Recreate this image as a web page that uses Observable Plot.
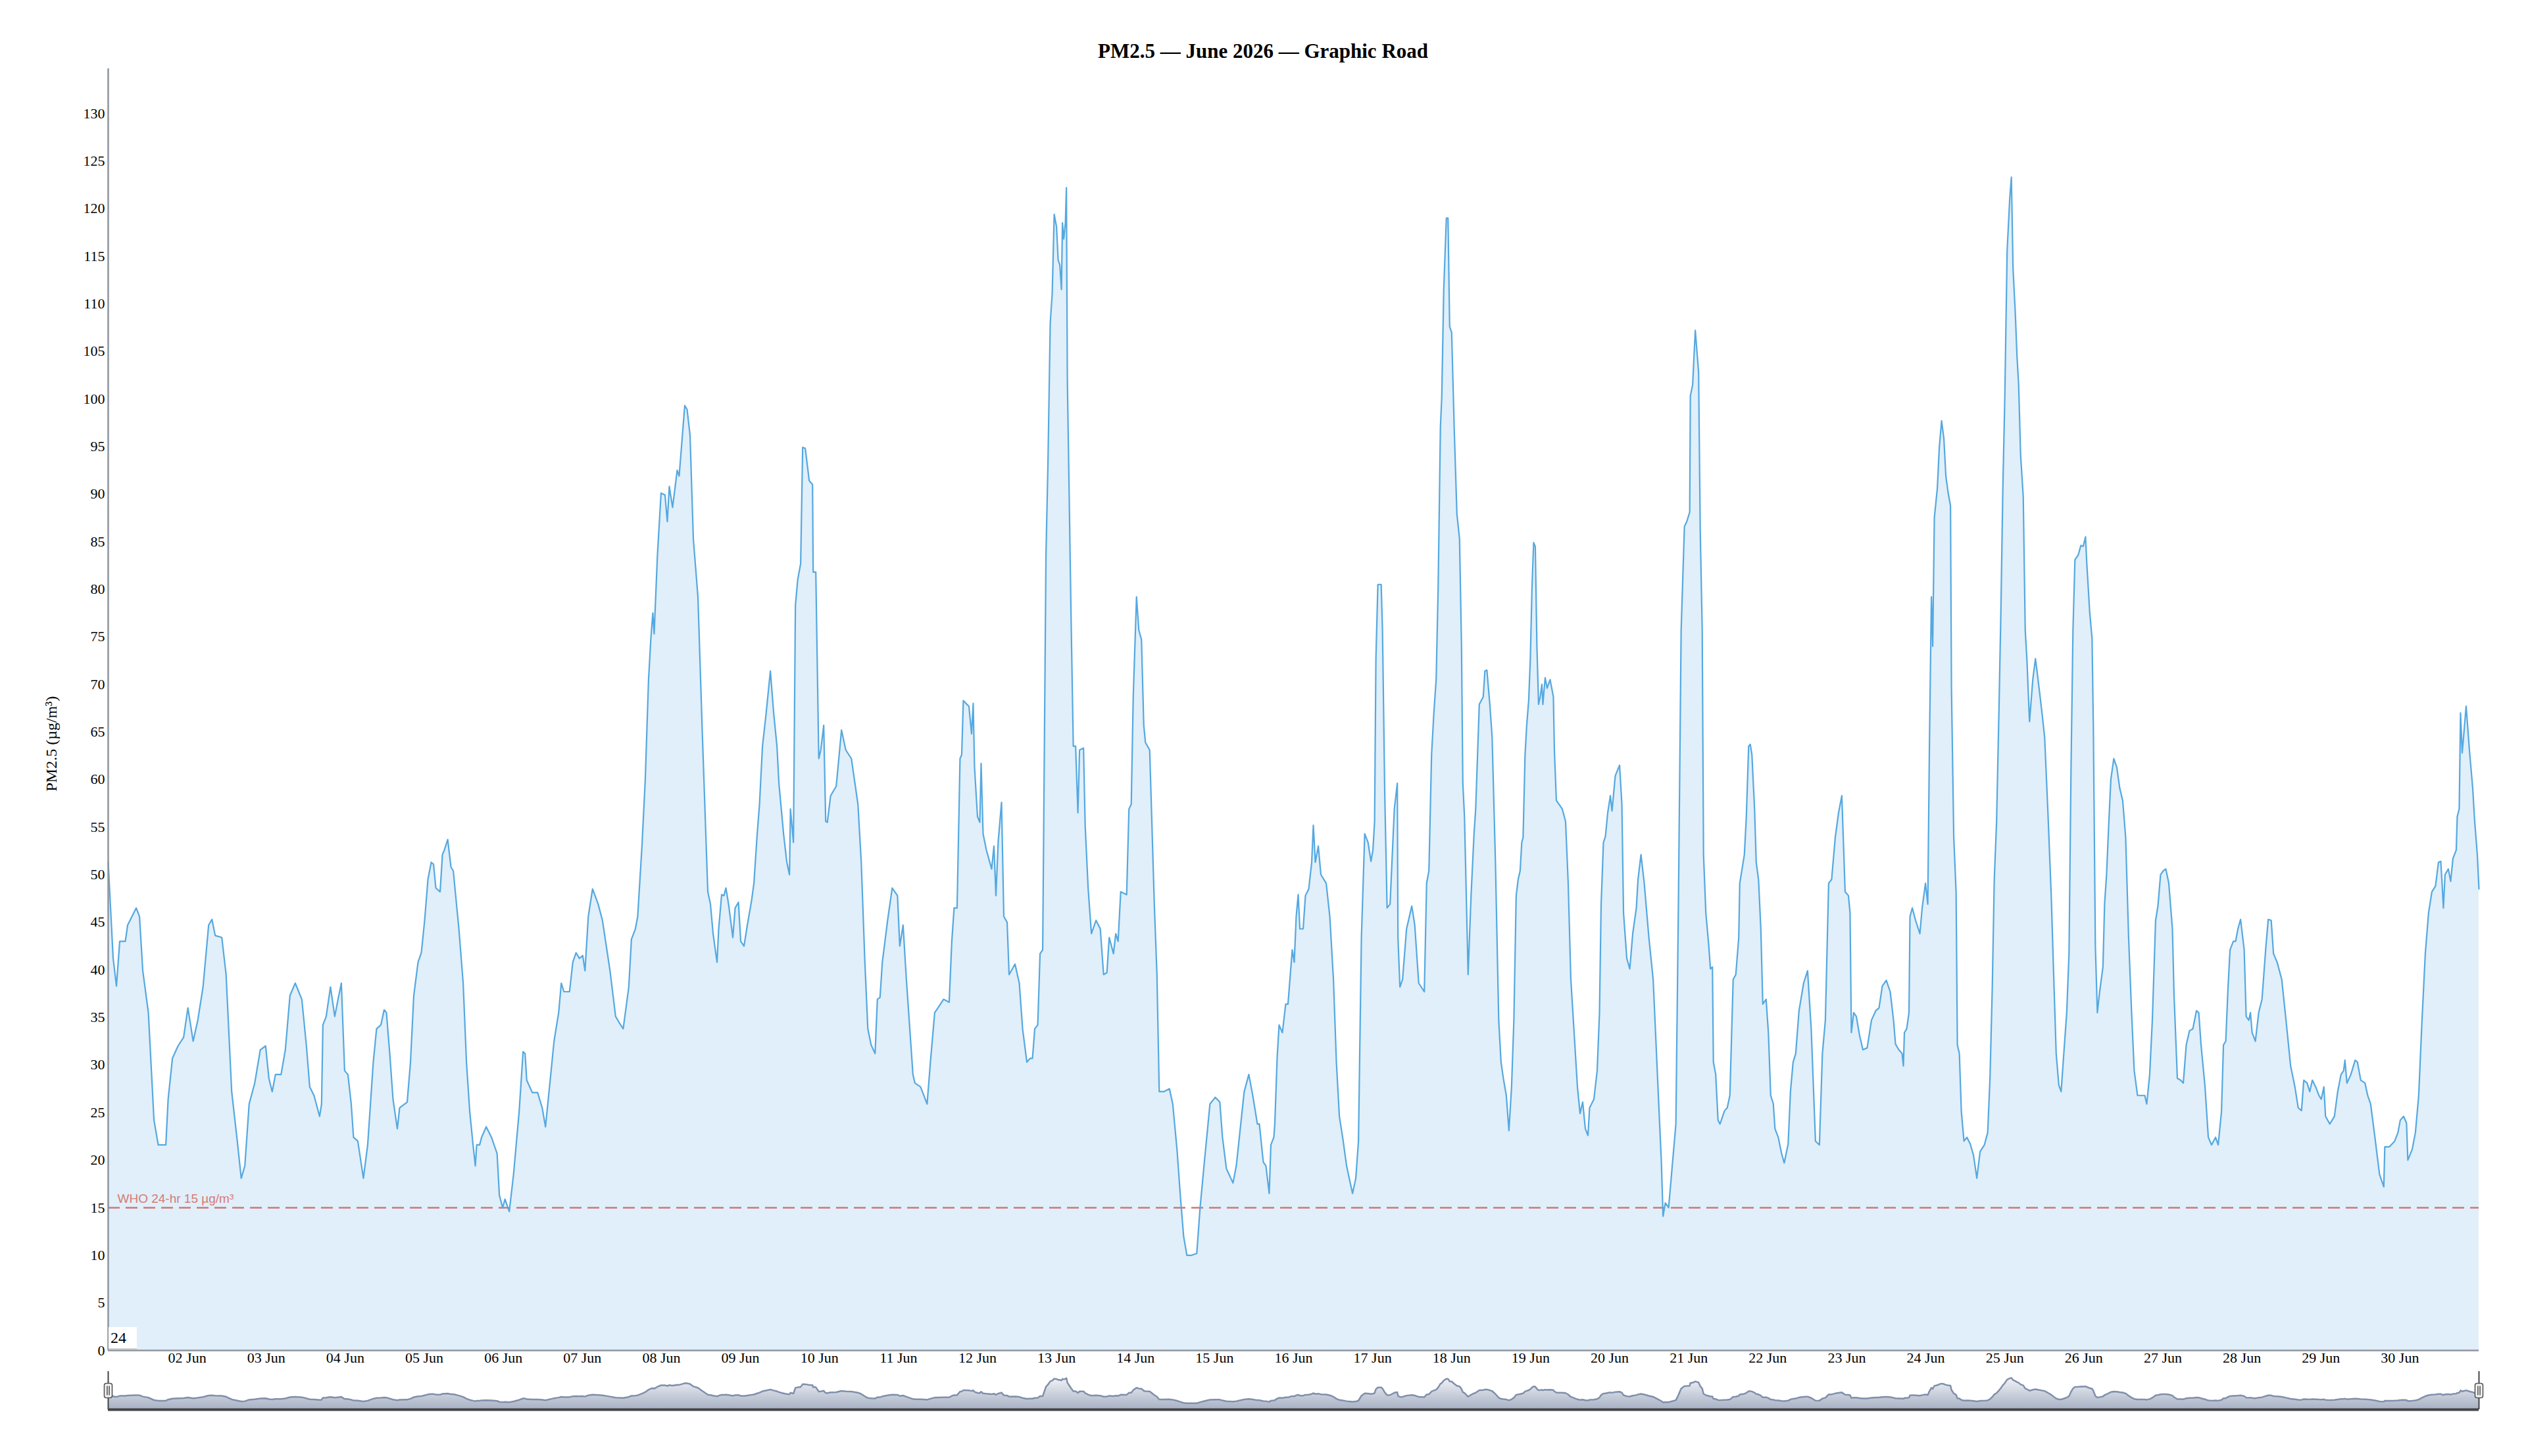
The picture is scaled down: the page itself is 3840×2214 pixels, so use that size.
<!DOCTYPE html>
<html>
<head>
<meta charset="utf-8">
<script src="https://cdn.jsdelivr.net/npm/d3@7"></script>
<script src="https://cdn.jsdelivr.net/npm/@observablehq/plot@0.6"></script>
<style>
html, body { margin: 0; padding: 0; background: #fff; }
#page { position: relative; width: 3840px; height: 2214px; background: #fff; font-family: "Liberation Serif", "Times New Roman", serif; overflow: hidden; }
#title { position: absolute; left: 0; top: 62px; width: 3840px; text-align: center; font-weight: bold; font-size: 31px; line-height: 32px; color: #000; }
#main { position: absolute; left: 0; top: 100px; }
#nav { position: absolute; left: 0; top: 2080px; }
#roller { position: absolute; left: 165px; top: 2018px; width: 40px; height: 32px; background: #fff; border-bottom: 2px solid #d4d4d4; font-size: 24px; line-height: 33px; padding-left: 3px; color: #000; }
</style>
</head>
<body>
<div id="page">
  <div id="title"></div>
  <div id="main"></div>
  <div id="nav"></div>
  <div id="roller"></div>
</div>
<script>
// ---- text ----
const titleText = "PM2.5 — June 2026 — Graphic Road";
const yLabel = "PM2.5 (µg/m³)";
const whoLimit = 15;
const whoLabel = "WHO 24-hr 15 µg/m³";
const rollPeriod = "24";
const monthLabel = "Jun";

// ---- ticks ----
const yTicks = [0,5,10,15,20,25,30,35,40,45,50,55,60,65,70,75,80,85,90,95,100,105,110,115,120,125,130];
const tickDays = [2,3,4,5,6,7,8,9,10,11,12,13,14,15,16,17,18,19,20,21,22,23,24,25,26,27,28,29,30];

// ---- readings: hours since 01 Jun 2026 00:00 and PM2.5 (µg/m³) ----
const hours = [
  0,1.5,2.5,3.5,5.2,5.9,8.5,9.5,10.5,12.2,
  13.9,15.2,17.5,18.2,19.5,21.2,22.9,24.2,25.8,27.2,
  28.8,30.5,31.5,32.5,34.5,35.8,37.5,39.2,40.4,41.5,
  42.8,44.5,46.2,47.8,48.8,49.8,50.8,52.5,53.8,55.2,
  56.8,58.8,60.2,61.2,62.5,64.2,64.8,65.2,66.2,67.5,
  68.8,69.8,70.8,71.8,72.8,73.8,74.5,75.8,77.5,78.8,
  80.5,81.5,82.8,83.8,84.5,85.5,86.5,87.8,88.5,90.8,
  91.8,92.8,94.1,95.1,96.1,97.1,98.1,98.8,99.5,100.8,
  101.5,102.1,103.1,104.1,104.8,106.5,107.8,108.8,109.8,110.8,
  111.5,111.9,112.8,113.4,114.8,116.4,118.1,118.8,119.8,120.5,
  121.8,123.1,124.8,126,126.6,127.1,128.8,130.4,131.8,132.8,
  134.4,135.4,136.8,137.6,138.4,140.1,141.1,142.1,143.1,144.1,
  144.8,145.8,147.1,148.8,150.1,152.4,154.1,155.1,156.4,158.1,
  158.9,160.1,
  160.8,162.1,163.1,164.1,164.8,165.4,165.8,166.8,167.9,169.1,
  169.8,170.4,171.4,172.8,173.4,175.1,175.8,176.7,177.7,179.1,
  180.4,182.1,182.9,183.7,184.9,185.4,186.3,187,187.6,188.4,
  189.7,190.4,191.4,192.1,193.1,194.1,195.4,196.1,197.1,197.8,
  198.7,199.7,201.1,202.1,203.1,203.7,205.1,206.1,206.9,207.2,
  208.1,208.7,209.4,210.3,210.9,211.7,212.9,213.9,214.1,214.9,
  215.8,216.4,217.3,217.9,218.4,219.4,221.1,222.7,224,225.7,
  227.7,228.7,229.8,230.7,231.7,232.9,233.6,234.4,235.1,236.7,
  238.1,239.7,240.4,241.4,
  242.4,244.4,245,246.7,247.7,248.7,249.7,251,252,253.7,
  255.4,256.2,256.9,257.8,258.7,259.2,259.7,260.5,261.4,262.2,
  262.7,263.1,264,264.7,265.1,265.7,266.7,268.3,269,269.6,
  270.3,271.3,272,273,273.6,275.4,276.7,277.7,279,280,
  280.7,281.4,282.3,283,283.8,284.8,285.4,286.1,286.7,287.3,
  288,288.5,289,289.5,289.8,290.2,290.7,291,291.3,291.9,
  292.4,293.1,293.8,294.5,295,296.2,296.7,297.6,298.6,300,
  301.3,302.3,303.3,304,305.3,306,306.7,307.5,309.3,310,
  310.7,311.3,312.3,313,313.8,314.5,315,316.3,317.7,318.5,
  319.2,
  320.6,322.3,323.3,324.6,325.6,326.6,327.6,329,330.6,331.6,
  332.9,334.6,336.2,337.6,338.4,339.6,341.6,342.6,345,346.4,
  347.6,349,349.6,350.8,351.6,352.6,353.1,354,354.3,355,
  355.6,356.6,357.6,358.3,359,359.6,360.2,360.8,361.4,361.9,
  362.9,363.6,364.6,365.5,366,366.6,367.5,368.3,369.9,371,
  372.1,373,373.9,374.9,376.1,376.9,377.9,378.9,379.7,380.6,
  381.6,382.6,383.5,384.1,384.6,385,385.6,386.6,387,387.7,
  388.4,389.3,390.6,391.5,391.7,392.3,393.1,394.3,395.9,396.8,
  398,399.7,
  400.4,401.1,401.9,402.6,403.3,403.9,404.6,405,405.6,406.4,
  406.9,407.4,408,408.8,409.6,410.4,411,411.4,411.9,413,
  413.9,414.8,415.3,416.4,417.6,418.1,418.7,419.6,420.3,421.3,
  422.3,423,423.7,424.6,425.4,426.2,426.9,427.6,428.2,428.8,
  429.3,429.7,430.3,430.8,431.4,431.9,432.4,432.9,433.4,433.9,
  434.4,434.9,435.4,435.7,436.4,437,437.9,438.9,439.2,439.8,
  440.6,441.6,442.6,443.4,444.2,445.2,446.2,447,447.8,448.6,
  449.4,449.9,451.2,452.2,452.9,453.4,454.1,454.7,455.4,456.2,
  456.7,457.7,459,459.7,460.2,461.2,462.1,463,464.1,464.6,
  465.5,466.5,467.9,469.2,470.9,471.7,472.2,472.9,473.9,474.9,
  476.1,476.9,477.7,478.7,
  479.4,480.3,480.5,481.2,481.5,482,482.5,483,483.5,484.1,
  484.5,485.2,486.1,486.6,487.2,487.5,488.2,488.9,489.5,490.9,
  491.7,492.5,493.5,494.3,495.2,495.5,496.9,497.5,498.2,498.7,
  499.2,500,500.5,501.2,501.9,502.5,503.5,504.2,504.9,505.7,
  506.2,507.2,508.2,509,510.2,510.9,511.7,512.5,513.5,514.9,
  516.1,517.2,518.5,519.7,520.6,521.5,522.5,523.4,524.5,525.5,
  526.5,527.5,528.5,529,529.4,530.1,530.9,531.9,532.9,534.2,
  535.5,536.8,537.8,538.8,540,541.2,542.2,542.8,543.8,544.8,
  545.2,545.5,546.2,546.9,547.2,547.9,548.9,550.2,550.9,551.9,
  552.6,553.1,553.7,554.1,554.6,555.5,556.1,556.8,557.5,558.1,
  558.8,559.5,559.8,560.5,561.2,561.6,562.2,562.8,
  563.6,564.5,565.5,566.5,567.5,568.5,569.8,570.8,571.5,572.2,
  572.8,573.5,574.2,574.8,575.4,576,576.7,577.5,578,578.5,
  579.2,579.7,580.2,580.8,581.6,582.2,582.7,583.5,584.5,585.3,
  586.1,587.3,588.1,589.1,590.1,590.8,591.6,592.4,593.1,594,
  594.8,595.5,596.1,596.7,597.3,598.3,599.1,599.8,600.5,600.9,
  601.8,602.5,602.9,603.5,604.1,604.8,605.8,606.3,606.9,607.6,
  608.2,609.1,610,610.9,611.8,612.7,613.6,614.5,615.3,616.3,
  617.3,618.5,619.1,620,620.8,621.8,622.5,623.3,624.1,624.9,
  625.8,626.9,627.4,628.4,629.4,630.2,631.1,632.1,633.1,634.2,
  634.9,635.6,636.8,637.8,638.8,640,640.8,
  641.8,642.4,643.1,643.8,644.4,645.4,646.1,646.8,647.6,648.7,
  649.3,650.1,650.6,651.1,652.1,653.1,654.1,655.3,656,656.9,
  657.6,658.7,660.1,661.4,662.8,664.1,665.1,666.1,666.8,667.8,
  668.6,669.4,670.4,671.4,672.1,672.9,673.4,674.7,676.1,677.1,
  678.1,678.9,679.3,679.9,681.1,682.4,683.1,684.1,685.4,686.2,
  687.1,688.4,689.8,691.1,691.4,692.8,694.4,695.4,696.1,697.1,
  698,698.4,699.7,700.7,701.7,702.7,703.7,704.7,705.7,706.8,
  707.7,708.4,708.8,709.2,709.7,710.7,711.4,712.1,713.1,713.4,
  714,714.4,714.9,715.5,716.1,717.1,718.1,718.7,719.5,720
];
const pm25 = [
  51.3,41.2,38.3,43,43,44.7,46.5,45.6,39.9,35.5,
  24.2,21.6,21.6,26.4,30.7,32,32.9,36,32.5,34.7,
  38.2,44.7,45.3,43.6,43.4,39.5,27.2,22,18.1,19.4,
  25.9,28.1,31.6,32,28.6,27.2,29,29,31.6,37.3,
  38.6,36.9,32,27.7,26.8,24.6,25.9,34.2,35.1,38.2,
  35.1,36.9,38.6,29.4,29,25.9,22.4,22,18.1,21.6,
  30.3,33.8,34.2,35.8,35.5,31.2,26.4,23.3,25.5,26.1,
  30.3,37.3,40.8,41.8,45.2,49.5,51.3,51.1,48.6,48.2,
  52.1,52.6,53.7,50.8,50.4,44.3,38.6,30.3,25.1,21.6,
  19.4,21.6,21.6,22.4,23.5,22.4,20.7,16.3,15,15.9,
  14.6,18.5,25.1,31.4,31.2,28.4,27.1,27.1,25.5,23.5,
  29,32.5,35.5,38.6,37.7,37.7,40.8,41.8,41.2,41.5,
  39.9,45.6,48.5,46.9,45.2,39.9,35.1,34.5,33.8,38.2,
  43.2,44.3,
  45.6,53,60,70.5,74.8,77.5,75.3,83.6,90.1,89.9,
  87.1,90.8,88.6,92.5,91.9,99.3,98.9,96.2,85.3,79.2,
  65.2,48.2,46.9,43.8,40.8,44.3,47.9,47.8,48.6,46.9,
  43.4,46.5,47.1,43,42.5,44.7,47.3,49.1,54.3,57.4,
  63.5,66.6,71.4,67,63.5,59.6,54.3,51.3,50,56.9,
  53.4,78.3,81,82.7,94.9,94.8,91.4,91,81.8,81.8,
  62.2,63.1,65.7,55.6,55.5,58.3,59.3,65.2,63.1,62.2,
  57.4,51.3,40.8,33.8,32.1,31.2,36.9,37.1,40.8,45.2,
  48.6,47.8,42.5,44.7,
  39,29,28.1,27.7,26.8,25.9,30.3,35.5,36,36.9,
  36.6,43,46.5,46.5,62.2,62.6,68.3,68,67.7,64.8,
  68,61.3,56.1,55.5,61.7,54.3,52.6,50.6,53,47.8,
  53.5,57.6,45.6,45,39.5,40.6,38.6,33.8,30.3,30.7,
  30.7,33.8,34.2,41.7,42.1,83.6,93.2,108,111.1,119.4,
  118.1,114.6,114.1,111.5,118.5,116.8,118.5,122.2,101.9,88.8,
  77.5,63.5,63.5,56.5,63.1,63.3,55.2,48.6,43.8,45.2,
  44.3,39.5,39.7,43.4,41.7,43.8,43,48.2,47.9,56.9,
  57.4,68.7,79.2,75.7,74.7,65.7,63.9,63.1,46.9,39.5,
  27.2,
  27.2,27.5,25.9,21.1,16.3,12,10,10,10.2,15,
  19.8,25.9,26.6,26.1,22.4,19.1,17.6,19.4,27.2,29,
  26.8,23.8,23.8,19.8,19.4,16.5,21.6,22.4,23.8,30.7,
  34.2,33.4,36.4,36.4,39.5,42.1,40.8,45.6,47.9,44.3,
  44.3,47.8,48.5,51.3,55.2,51.3,53,50,49.1,45.6,
  39,30.3,24.6,22.4,19.4,18.1,16.5,18.1,22,43.4,
  54.3,53.4,51.4,52.6,55.6,72.7,80.5,80.5,75.7,58.3,
  46.5,46.9,56.9,59.6,43.4,38.2,39,44.3,46.7,44.7,
  38.6,37.7,
  49.1,50.4,62.6,67,70.5,80.1,97.1,100.2,111.5,119,
  119,107.6,107,96.7,87.9,85.3,74,59.6,56.1,39.5,
  47.8,54.3,56.9,67.9,68.7,71.4,71.5,67.9,64.4,51.3,
  34.7,30.3,28.6,26.8,23.1,27.7,34.7,47.8,49.5,50.4,
  53.4,53.9,62.6,65.7,68.3,72.7,80.1,84.9,84.5,74,
  67.9,68.7,70,67.9,70.7,69.6,70.5,68.7,63.1,57.8,
  57.4,56.9,55.6,49.1,39,33.4,27.7,24.9,26.1,23.3,
  22.6,25.5,26.4,29.4,35.5,46.9,53.4,54,56.5,58.3,
  56.7,60.4,61.5,57.4,46,41.2,40.1,43.8,46.5,49.5,
  52.1,49.1,43.4,39,25.9,19.8,14.1,15.5,15,19,
  23.8,47.8,75.7,86.6,
  87.1,88.1,100.3,101.5,103.7,107.2,105,102.8,86.2,75.7,
  52.1,46,42.5,40.1,40.3,30.3,29,24.2,23.8,25.2,
  25.5,26.8,39,39.5,43.4,49.1,52.1,56.1,63.5,63.7,
  62.6,56.9,51.3,49.5,44.3,36.4,36.9,33.4,26.8,25.9,
  23.3,22.4,20.7,19.7,21.7,27.2,30.3,31.2,35.7,38.6,
  39.9,33.8,22,21.6,31.2,34.7,49.1,49.5,53.9,56.5,
  58.3,48.2,47.8,46,33.4,35.5,35.1,33.1,31.6,31.8,
  34.7,35.7,36,38.3,38.9,37.7,34.7,32.2,31.6,31.2,
  29.9,33.4,33.8,35.5,45.6,46.5,45.2,43.8,46.5,49.1,
  46.9,63.5,79.2,74,87.5,90.6,94.9,97.7,95.8,91.9,
  90.1,88.8,69.6,53.9,48.2,32.1,31.2,25.1,
  22,22.4,21.7,20.5,18.1,20.9,21.6,22.9,28.6,38.2,
  49.5,55.6,67,77.5,90.6,100.2,115.5,121.1,123.3,113.7,
  108.9,104.5,101.5,94.1,89.7,75.7,72.7,66.1,70.5,72.7,
  70.5,67,64.4,56.5,47.8,39.9,31.2,27.9,27.2,31.6,
  35.5,41.7,60.9,75.7,83.1,83.6,84.6,84.5,85.5,82.7,
  77.5,74.8,65.2,42.5,35.5,37.7,40.3,46.9,50,55.6,
  60,62.2,61.3,59.1,57.8,53.9,43.4,35.5,29.4,26.8,
  26.8,26.8,25.9,29,34.7,45.2,46.7,50,50.4,50.6,
  49.1,44.3,37.3,28.6,28.4,28.1,32.1,33.6,33.8,35.7,
  35.5,32.1,27.7,22.4,21.6,22.4,21.6,
  25.1,32.1,32.5,38.2,42.1,43,43,44.3,45.3,42.1,
  35.1,34.7,35.5,33.4,32.5,35.5,36.9,42.5,45.3,45.2,
  41.7,40.8,39,34.7,29.9,27.7,25.5,25.2,28.4,28.1,
  27.2,28.4,27.7,26.8,26.4,27.7,24.6,23.8,24.6,27.2,
  29,29.4,30.5,28.1,29,30.5,30.3,28.4,28.1,26.8,
  25.9,22.4,18.5,17.2,21.4,21.4,22,22.9,24.2,24.6,
  23.9,20,21.1,22.9,26.8,34.7,41.7,46,48.2,48.8,
  51.3,51.4,49.1,46.5,50,50.6,49.3,51.7,52.6,56.1,
  56.9,67,62.8,65.2,67.7,63.1,59.1,55.6,52.1,48.5
];

// ---- build table ----
const t0 = Date.UTC(2026, 5, 1);
const start = new Date(t0);
const end = new Date(Date.UTC(2026, 6, 1));
const n = Math.min(hours.length, pm25.length);
const data = d3.range(n).map(i => ({time: new Date(t0 + hours[i] * 3600e3), value: pm25[i]}));
const dayTickDates = tickDays.map(d => new Date(Date.UTC(2026, 5, d)));
const fmtDay = d => d3.utcFormat("%d")(d) + " " + monthLabel;

const lineColor = "#55a8e0";
const axisColor = "#8e959e";
const serif = '"Liberation Serif", "Times New Roman", serif';

document.getElementById("title").textContent = titleText;
document.getElementById("roller").textContent = rollPeriod;

// ---- main chart ----
const main = Plot.plot({
  width: 3840,
  height: 1980,
  marginLeft: 164,
  marginRight: 72,
  marginTop: 4,
  marginBottom: 27,
  style: {fontFamily: serif, fontSize: "22px", color: "#000", background: "transparent", overflow: "visible"},
  x: {type: "utc", domain: [start, end], ticks: dayTickDates, tickFormat: fmtDay, tickSize: 0, tickPadding: 3, label: null},
  y: {domain: [0, 134.7], ticks: yTicks, tickSize: 0, tickPadding: 5, label: null},
  marks: [
    Plot.areaY(data, {x: "time", y: "value", fill: lineColor, fillOpacity: 0.18}),
    Plot.ruleY([whoLimit], {stroke: "#cc7a78", strokeWidth: 2.5, strokeDasharray: "18,9"}),
    Plot.text([whoLabel], {x: () => start, y: () => whoLimit, text: d => d, dx: 14, dy: -7, textAnchor: "start", lineAnchor: "bottom", fill: "#d77a74", fontFamily: '"Liberation Sans", Arial, sans-serif', fontSize: 19}),
    Plot.lineY(data, {x: "time", y: "value", stroke: lineColor, strokeWidth: 2.2}),
    Plot.ruleX([start], {stroke: axisColor, strokeWidth: 2.5}),
    Plot.ruleY([0], {stroke: axisColor, strokeWidth: 2.5}),
    Plot.text([yLabel], {frameAnchor: "left", text: d => d, dx: -86, dy: 52, rotate: -90, textAnchor: "middle", lineAnchor: "middle", fontSize: 24, fill: "#000"})
  ]
});
document.getElementById("main").appendChild(main);

// ---- range selector (navigator) ----
const lo = d3.min(pm25), hi = d3.max(pm25), pad = 0.25 * (hi - lo);
const navDomain = [lo - pad, hi + pad];
const handleSymbol = {
  draw(ctx) {
    const w = 6, h = 11, r = 3;
    ctx.moveTo(-w + r, -h);
    ctx.lineTo(w - r, -h);
    ctx.arcTo(w, -h, w, -h + r, r);
    ctx.lineTo(w, h - r);
    ctx.arcTo(w, h, w - r, h, r);
    ctx.lineTo(-w + r, h);
    ctx.arcTo(-w, h, -w, h - r, r);
    ctx.lineTo(-w, -h + r);
    ctx.arcTo(-w, -h, -w + r, -h, r);
    ctx.closePath();
    ctx.moveTo(-1.6, -7); ctx.lineTo(-1.6, 7);
    ctx.moveTo(1.6, -7); ctx.lineTo(1.6, 7);
  }
};
const nav = Plot.plot({
  width: 3840,
  height: 67,
  marginLeft: 164,
  marginRight: 72,
  marginTop: 5,
  marginBottom: 4,
  style: {fontFamily: serif, background: "transparent", overflow: "visible"},
  x: {type: "utc", domain: [start, end], axis: null},
  y: {domain: navDomain, axis: null},
  marks: [
    Plot.areaY(data, {x: "time", y1: navDomain[0], y2: "value", fill: "url(#navGrad)"}),
    Plot.lineY(data, {x: "time", y: "value", stroke: "#808FAB", strokeWidth: 2.5}),
    Plot.ruleX([start, end], {stroke: "#444", strokeWidth: 2}),
    Plot.ruleY([navDomain[0]], {stroke: "#444", strokeWidth: 4}),
    Plot.dotX([start, end], {x: d => d, symbol: handleSymbol, r: 6, fill: "#f2f2f2", stroke: "#555", strokeWidth: 1.6})
  ]
});
const ns = "http://www.w3.org/2000/svg";
const defs = document.createElementNS(ns, "defs");
defs.innerHTML = '<linearGradient id="navGrad" gradientUnits="userSpaceOnUse" x1="0" y1="5" x2="0" y2="63"><stop offset="0" stop-color="#ffffff"/><stop offset="1" stop-color="#A7B1C4"/></linearGradient>';
nav.insertBefore(defs, nav.firstChild);
document.getElementById("nav").appendChild(nav);
</script>
</body>
</html>
